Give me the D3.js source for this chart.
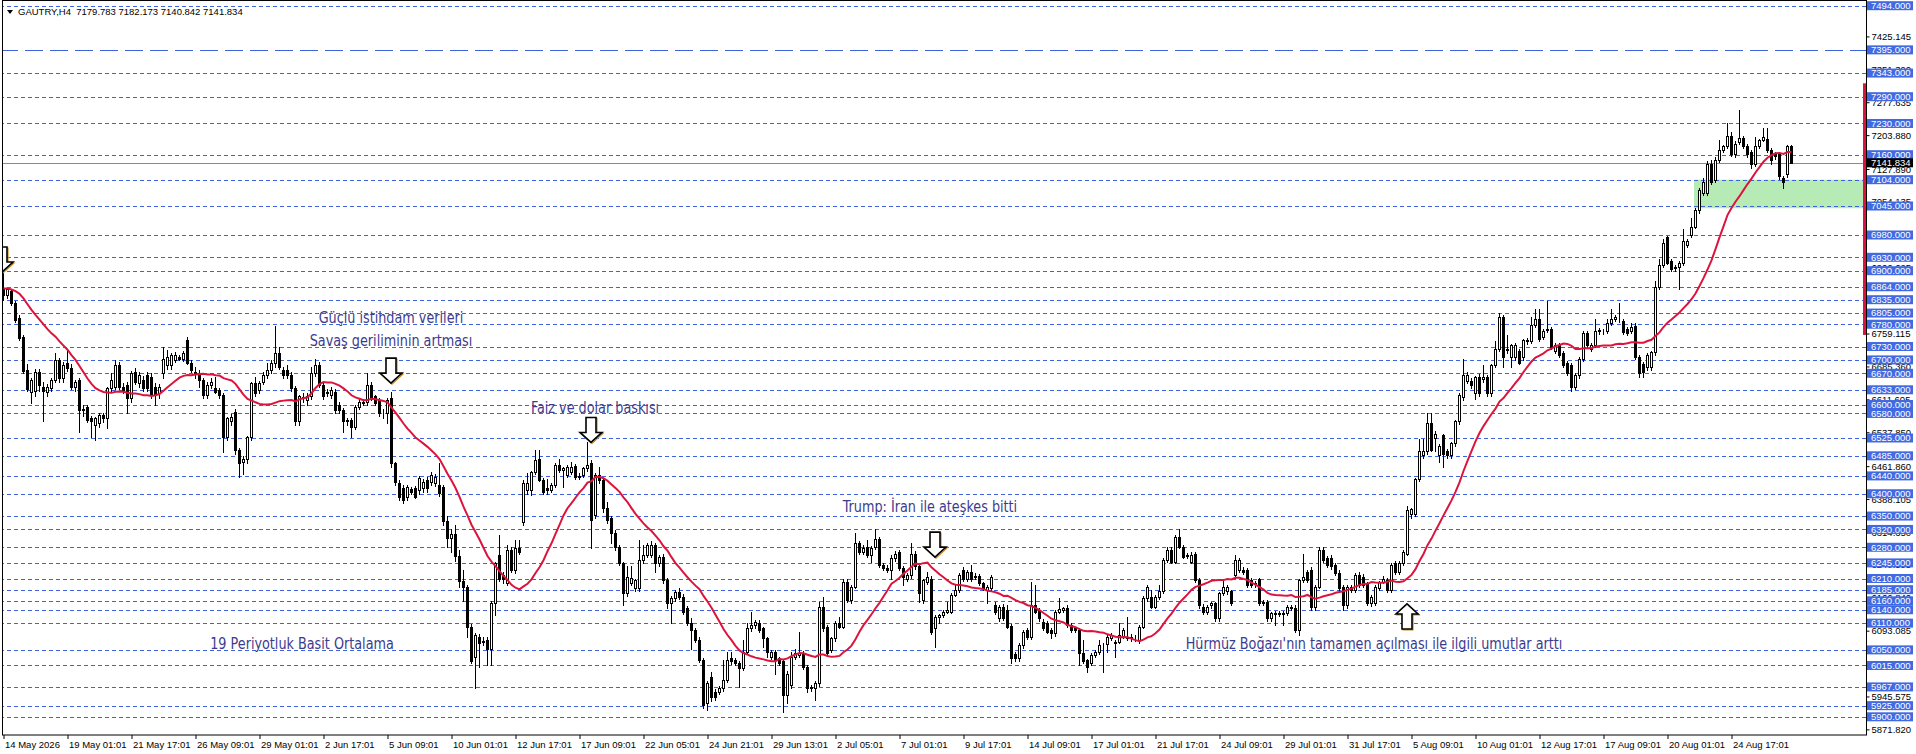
<!DOCTYPE html>
<html><head><meta charset="utf-8">
<script src="https://cdn.jsdelivr.net/npm/d3@7"></script>
<style>html,body{margin:0;padding:0;background:#fff;overflow:hidden}
text{font-family:"Liberation Sans",Arial,sans-serif}
.note{font-family:"Liberation Sans Narrow","DejaVu Sans Condensed","Roboto",sans-serif;font-stretch:condensed}
</style>
</head><body>
<svg id="c" width="1916" height="754" xmlns="http://www.w3.org/2000/svg"></svg>
<script>
// ---------- DATA ----------
const header = "GAUTRY,H4  7179.783 7182.173 7140.842 7141.834";
// H4 candles [open, high, low, close]
const candles = [
[6860,6894,6835,6845],[6845,6862,6838,6858],[6855,6860,6822,6828],[6828,6832,6785,6790],[6795,6800,6745,6750],
[6752,6755,6670,6675],[6677,6690,6630,6635],[6628,6660,6603,6655],[6630,6680,6620,6674],[6672,6680,6630,6644],
[6640,6650,6562,6630],[6629,6645,6620,6640],[6637,6660,6630,6655],[6655,6715,6650,6700],[6700,6705,6650,6659],
[6659,6695,6650,6689],[6692,6722,6675,6681],[6681,6690,6635,6640],[6640,6655,6630,6651],[6655,6660,6539,6588],
[6591,6600,6575,6588],[6595,6600,6560,6565],[6569,6575,6528,6562],[6554,6572,6520,6569],[6558,6580,6550,6576],
[6576,6580,6560,6569],[6569,6640,6547,6636],[6636,6670,6630,6655],[6640,6700,6635,6689],[6689,6695,6635,6640],
[6640,6648,6625,6633],[6644,6650,6580,6614],[6614,6675,6605,6670],[6674,6681,6645,6651],[6648,6672,6640,6666],
[6655,6665,6630,6636],[6666,6672,6630,6636],[6662,6670,6615,6621],[6640,6648,6599,6621],[6625,6645,6615,6640],
[6670,6730,6660,6703],[6689,6722,6680,6707],[6689,6715,6680,6711],[6700,6718,6695,6711],[6707,6712,6700,6703],
[6703,6720,6698,6715],[6745,6752,6690,6692],[6692,6700,6672,6677],[6670,6685,6660,6674],[6670,6678,6640,6655],
[6655,6660,6615,6621],[6621,6650,6615,6644],[6644,6660,6638,6651],[6636,6662,6625,6629],[6633,6638,6615,6621],
[6621,6625,6494,6528],[6528,6572,6520,6569],[6562,6578,6555,6573],[6584,6590,6490,6498],[6498,6502,6438,6468],
[6472,6485,6445,6479],[6479,6530,6470,6528],[6528,6650,6520,6648],[6648,6662,6620,6625],[6633,6652,6625,6648],
[6651,6672,6645,6666],[6666,6692,6660,6677],[6677,6700,6670,6692],[6692,6776,6685,6715],[6715,6730,6680,6685],
[6677,6685,6660,6666],[6677,6689,6660,6666],[6666,6672,6630,6636],[6636,6642,6555,6562],[6562,6622,6555,6618],
[6616,6625,6605,6614],[6610,6625,6600,6618],[6618,6684,6612,6670],[6670,6703,6665,6689],[6689,6695,6640,6644],
[6644,6650,6612,6618],[6629,6635,6620,6625],[6621,6640,6615,6633],[6629,6635,6582,6588],[6599,6605,6580,6588],
[6588,6592,6539,6562],[6565,6570,6555,6562],[6565,6570,6528,6550],[6550,6600,6545,6595],[6595,6612,6590,6606],
[6606,6612,6598,6603],[6606,6670,6600,6644],[6644,6650,6610,6614],[6618,6622,6598,6603],[6610,6615,6575,6580],
[6582,6590,6570,6580],[6580,6615,6558,6610],[6614,6629,6460,6468],[6468,6472,6420,6427],[6423,6430,6385,6393],
[6412,6420,6380,6386],[6393,6420,6385,6416],[6410,6415,6400,6405],[6412,6418,6390,6393],[6408,6440,6400,6435],
[6412,6432,6405,6427],[6431,6438,6405,6412],[6427,6448,6420,6442],[6423,6445,6418,6438],[6419,6468,6395,6401],
[6416,6420,6330,6340],[6340,6350,6280,6300],[6300,6320,6270,6310],[6310,6330,6250,6260],[6260,6275,6190,6205],
[6205,6230,6160,6190],[6190,6195,6080,6102],[6102,6108,6020,6024],[6035,6088,5964,6083],[6080,6085,6012,6065],
[6070,6078,6060,6068],[6072,6078,6016,6053],[6053,6160,6016,6154],[6154,6248,6128,6244],[6263,6307,6205,6210],
[6218,6225,6200,6210],[6199,6285,6195,6274],[6274,6280,6225,6229],[6229,6296,6222,6278],[6278,6296,6265,6270],
[6337,6430,6330,6423],[6408,6446,6400,6423],[6408,6452,6397,6449],[6449,6498,6445,6476],[6477,6498,6428,6431],
[6431,6436,6400,6405],[6412,6434,6400,6408],[6408,6425,6403,6420],[6420,6468,6415,6464],[6464,6479,6448,6453],
[6453,6460,6416,6457],[6442,6465,6438,6461],[6449,6472,6445,6461],[6462,6466,6434,6438],[6440,6446,6432,6438],
[6442,6460,6438,6457],[6457,6517,6450,6464],[6468,6475,6278,6341],[6352,6446,6345,6442],[6442,6461,6425,6431],
[6431,6436,6360,6367],[6367,6382,6335,6341],[6345,6350,6289,6311],[6311,6319,6275,6281],[6281,6285,6240,6244],
[6244,6248,6151,6177],[6177,6237,6170,6214],[6199,6237,6195,6212],[6188,6210,6182,6207],[6188,6296,6182,6251],
[6251,6285,6245,6263],[6263,6290,6258,6285],[6263,6293,6258,6285],[6285,6290,6225,6244],[6244,6262,6238,6259],
[6259,6265,6200,6207],[6207,6212,6143,6154],[6154,6170,6110,6166],[6166,6185,6160,6180],[6180,6188,6165,6169],
[6169,6175,6130,6136],[6143,6148,6105,6110],[6110,6121,6053,6095],[6095,6100,6068,6072],[6072,6078,6022,6027],
[6027,6032,5920,5926],[5930,5980,5915,5975],[5990,6000,5935,5945],[5956,5962,5938,5945],[5956,5968,5950,5964],
[5964,6027,5958,5982],[5982,6046,5978,6027],[6031,6046,6018,6024],[6027,6032,6015,6020],[6020,6025,5967,6009],
[6009,6072,6005,6046],[6046,6110,6040,6098],[6098,6136,6093,6106],[6106,6118,6100,6113],[6110,6116,6090,6095],
[6098,6102,6057,6076],[6076,6080,6035,6046],[6035,6050,6030,6046],[6046,6050,5997,6027],[6031,6035,6015,6020],
[6024,6028,5911,5949],[5949,6002,5930,5997],[5971,6046,5965,6035],[6035,6053,6030,6042],[6039,6091,6035,6042],
[6042,6048,6008,6012],[6012,6016,5956,5964],[5967,5972,5958,5964],[5964,5980,5938,5975],[5975,6158,5970,6147],
[6147,6169,6092,6098],[6102,6106,6038,6042],[6050,6080,6045,6076],[6076,6115,6070,6110],[6110,6124,6098,6102],
[6102,6210,6098,6203],[6203,6208,6158,6162],[6162,6195,6155,6192],[6192,6311,6188,6289],[6289,6295,6265,6270],
[6270,6285,6265,6278],[6281,6296,6258,6263],[6263,6282,6248,6278],[6281,6322,6276,6298],[6298,6302,6235,6240],
[6240,6245,6228,6233],[6233,6240,6225,6230],[6229,6262,6210,6255],[6255,6272,6250,6266],[6270,6275,6228,6233],
[6233,6237,6195,6214],[6210,6222,6205,6218],[6218,6289,6212,6266],[6266,6272,6232,6237],[6237,6240,6158,6177],
[6162,6210,6155,6207],[6203,6225,6198,6214],[6210,6215,6085,6091],[6098,6128,6057,6124],[6124,6130,6110,6128],
[6128,6140,6124,6136],[6136,6158,6132,6139],[6136,6178,6132,6173],[6173,6195,6170,6184],[6184,6222,6180,6218],
[6229,6235,6205,6210],[6210,6228,6205,6225],[6225,6240,6205,6210],[6216,6222,6208,6213],[6216,6220,6195,6199],
[6199,6203,6185,6188],[6184,6195,6154,6192],[6188,6218,6184,6214],[6151,6158,6130,6136],[6121,6150,6115,6147],
[6147,6152,6118,6121],[6140,6150,6098,6102],[6104,6108,6020,6031],[6040,6046,6025,6031],[6031,6065,6024,6061],
[6061,6095,6055,6091],[6095,6100,6075,6080],[6080,6203,6075,6151],[6151,6195,6132,6136],[6139,6143,6115,6121],
[6113,6120,6095,6098],[6110,6115,6088,6091],[6095,6100,6076,6087],[6087,6140,6082,6136],[6136,6166,6132,6141],
[6139,6147,6135,6143],[6143,6150,6102,6106],[6106,6110,6090,6095],[6098,6102,6090,6095],[6095,6100,6016,6042],
[6042,6072,6020,6024],[6027,6030,6001,6012],[6020,6042,6015,6039],[6039,6050,6035,6046],[6046,6072,6040,6061],
[6061,6065,6001,6060],[6064,6085,6046,6080],[6076,6088,6072,6083],[6065,6072,6035,6068],[6068,6110,6065,6083],
[6080,6098,6076,6095],[6076,6124,6072,6080],[6078,6085,6070,6077],[6077,6083,6070,6076],[6072,6105,6065,6102],
[6102,6170,6098,6166],[6166,6195,6160,6192],[6169,6184,6143,6147],[6147,6172,6143,6169],[6169,6195,6165,6181],
[6181,6255,6177,6251],[6251,6281,6248,6274],[6274,6280,6244,6248],[6248,6308,6244,6304],[6304,6320,6278,6281],
[6281,6285,6255,6259],[6262,6268,6255,6260],[6248,6270,6244,6263],[6266,6270,6203,6207],[6207,6212,6145,6151],
[6147,6152,6130,6136],[6136,6150,6130,6147],[6150,6158,6145,6154],[6154,6158,6115,6121],[6121,6180,6115,6177],
[6177,6210,6173,6192],[6181,6196,6176,6192],[6181,6185,6150,6154],[6218,6263,6212,6251],[6229,6255,6225,6251],
[6230,6235,6220,6225],[6229,6233,6190,6195],[6207,6212,6190,6195],[6199,6205,6192,6198],[6208,6212,6150,6154],
[6154,6162,6150,6158],[6158,6162,6115,6121],[6121,6135,6115,6132],[6132,6138,6106,6130],[6130,6138,6125,6133],
[6133,6138,6106,6130],[6132,6150,6128,6147],[6143,6150,6140,6147],[6143,6150,6090,6095],[6095,6210,6083,6207],
[6207,6266,6203,6214],[6225,6230,6203,6207],[6229,6235,6140,6147],[6147,6195,6140,6192],[6192,6281,6188,6274],
[6274,6280,6248,6251],[6255,6260,6236,6240],[6255,6262,6232,6237],[6240,6245,6218,6222],[6222,6228,6185,6188],
[6192,6196,6140,6151],[6151,6196,6145,6192],[6192,6196,6180,6184],[6184,6222,6180,6218],[6218,6225,6190,6195],
[6214,6220,6190,6195],[6199,6203,6150,6154],[6154,6172,6148,6169],[6154,6195,6150,6192],[6188,6205,6184,6203],
[6203,6215,6199,6210],[6207,6212,6180,6184],[6184,6245,6180,6240],[6244,6250,6220,6225],[6225,6250,6220,6244],
[6244,6275,6240,6270],[6266,6372,6262,6364],[6355,6368,6346,6366],[6355,6436,6350,6432],[6432,6522,6428,6495],
[6486,6522,6480,6495],[6495,6580,6490,6558],[6558,6580,6495,6499],[6526,6540,6495,6535],[6486,6512,6472,6508],
[6531,6535,6459,6490],[6495,6500,6480,6486],[6486,6516,6480,6513],[6513,6565,6508,6562],[6562,6625,6556,6621],
[6616,6702,6610,6666],[6652,6672,6648,6666],[6652,6660,6638,6643],[6625,6665,6612,6661],[6661,6668,6620,6625],
[6657,6688,6650,6661],[6661,6666,6620,6625],[6625,6690,6620,6688],[6688,6742,6684,6724],[6724,6805,6720,6796],
[6796,6800,6684,6706],[6722,6756,6715,6724],[6706,6736,6684,6733],[6706,6738,6700,6733],[6720,6725,6690,6693],
[6706,6746,6700,6744],[6742,6750,6736,6744],[6742,6796,6738,6778],[6778,6814,6774,6792],[6792,6814,6742,6747],
[6751,6770,6746,6765],[6767,6832,6762,6770],[6769,6774,6724,6729],[6720,6738,6715,6733],[6733,6738,6706,6711],
[6715,6720,6684,6688],[6693,6697,6666,6670],[6688,6692,6630,6639],[6639,6670,6634,6666],[6666,6706,6660,6702],
[6702,6765,6698,6760],[6760,6765,6730,6733],[6724,6738,6720,6733],[6733,6792,6729,6765],[6766,6772,6758,6764],
[6764,6770,6758,6765],[6765,6792,6760,6783],[6783,6814,6778,6792],[6792,6800,6788,6796],[6792,6828,6786,6791],
[6787,6792,6758,6762],[6769,6774,6755,6760],[6765,6783,6760,6774],[6777,6782,6702,6706],[6706,6710,6661,6670],
[6690,6695,6661,6672],[6684,6715,6678,6711],[6684,6720,6678,6717],[6717,6878,6712,6864],[6864,6927,6860,6913],
[6913,6972,6908,6963],[6976,6977,6915,6918],[6922,6926,6900,6904],[6906,6912,6900,6908],[6909,6922,6860,6918],
[6918,6994,6912,6967],[6958,6972,6953,6967],[6981,7017,6976,6999],[6999,7040,6995,7035],[7035,7085,7030,7080],
[7075,7107,7070,7098],[7075,7145,7070,7139],[7139,7148,7095,7098],[7103,7155,7098,7148],[7148,7193,7143,7170],
[7170,7182,7165,7179],[7179,7230,7175,7202],[7202,7210,7157,7161],[7161,7190,7155,7184],[7188,7260,7184,7197],
[7197,7202,7175,7179],[7179,7184,7155,7161],[7166,7170,7130,7139],[7139,7200,7135,7179],[7179,7195,7175,7193],
[7193,7220,7190,7200],[7195,7220,7165,7170],[7170,7175,7140,7148],[7161,7166,7150,7157],[7161,7165,7105,7112],
[7107,7112,7085,7098],[7116,7182,7110,7179],[7179.783,7182.173,7140.842,7141.834]
];
// closes before the first visible bar (estimated from the drawn 19-period average at the left edge)
const prevCloses = [6860,6870,6855,6865,6869,6885,6895,6887,6845,6835,6840,6838,6842,6855,6870,6860,6866,6858];
const maPeriod = 19;
// time axis labels, one every 16 bars
const timeLabels = ["14 May 2026","19 May 01:01","21 May 17:01","26 May 09:01","29 May 01:01","2 Jun 17:01","5 Jun 09:01",
"10 Jun 01:01","12 Jun 17:01","17 Jun 09:01","22 Jun 05:01","24 Jun 21:01","29 Jun 13:01","2 Jul 05:01","7 Jul 01:01",
"9 Jul 17:01","14 Jul 09:01","17 Jul 01:01","21 Jul 17:01","24 Jul 09:01","29 Jul 01:01","31 Jul 17:01","5 Aug 09:01",
"10 Aug 01:01","12 Aug 17:01","17 Aug 09:01","20 Aug 01:01","24 Aug 17:01"];
const labelEvery = 16;
// horizontal level lines (blue dashed) with their price labels
const levelPrices = [7494,7395,7343,7290,7230,7160,7104,7045,6980,6930,6900,6864,6835,6805,6780,6730,6700,6670,6633,6600,
6580,6525,6485,6440,6400,6350,6320,6280,6245,6210,6185,6160,6140,6110,6050,6015,5967,5925,5900];
const longDashLevel = 7395;
// price scale tick labels
const priceTicks = [7425.145,7351.390,7277.635,7203.880,7127.890,7054.135,6980.380,6906.625,6832.870,6759.115,6685.360,
6611.605,6537.850,6461.860,6388.105,6314.350,6240.595,6166.840,6093.085,6019.330,5945.575,5871.820];
const bidPrice = 7141.834;
const zoneTop = 7104, zoneBottom = 7040, zoneStartBar = 423;
const markerTop = 7320, markerBottom = 6756;
const notes = [
  {text:"Güçlü istihdam verileri", bar:97, price:6782},
  {text:"Savaş geriliminin artması", bar:97, price:6732},
  {text:"Faiz ve dolar baskısı", bar:148, price:6580},
  {text:"Trump: İran ile ateşkes bitti", bar:231.75, price:6360},
  {text:"19 Periyotluk Basit Ortalama", bar:74.75, price:6052},
  {text:"Hürmüz Boğazı'nın tamamen açılması ile ilgili umutlar arttı", bar:342.75, price:6052}
];
const arrows = [
  {bar:-0.25, price:6953, dir:"down"},
  {bar:97, price:6704, dir:"down"},
  {bar:147, price:6571, dir:"down"},
  {bar:233, price:6314, dir:"down"},
  {bar:351, price:6153, dir:"up"}
];

// ---------- DRAW ----------
const svg = d3.select("#c");
const plotL = 2, plotR = 1866, plotT = 0.5, plotB = 735;
const y = d3.scaleLinear().domain([5900, 7494]).range([716.8, 5.7]);
const x = d3.scaleLinear().domain([0, candles.length - 1]).range([3, 1791]);
const px = i => Math.round(x(i));
const py = v => Math.round(y(v));

svg.append("rect").attr("width",1916).attr("height",754).attr("fill","#fff");
svg.append("defs").append("clipPath").attr("id","plot")
  .append("rect").attr("x",plotL).attr("y",0).attr("width",plotR-plotL).attr("height",plotB);
const g = svg.append("g").attr("clip-path","url(#plot)");

// green zone
g.append("rect").attr("x", px(zoneStartBar)-1).attr("y", y(zoneTop))
  .attr("width", plotR - px(zoneStartBar) + 1).attr("height", y(zoneBottom)-y(zoneTop))
  .attr("fill","#b6ebb6");

// level lines
g.selectAll("line.lvl").data(levelPrices).join("line").attr("class","lvl")
  .attr("x1",0).attr("x2",plotR).attr("y1",d=>py(d)+0.5).attr("y2",d=>py(d)+0.5)
  .attr("stroke","#3f63dd").attr("stroke-width",1)
  .attr("stroke-dasharray",d=> d===longDashLevel ? "18,7" : "4,3");

// bid line
g.append("line").attr("x1",0).attr("x2",plotR).attr("y1",py(bidPrice)+0.5).attr("y2",py(bidPrice)+0.5)
  .attr("stroke","#7f8c99").attr("stroke-width",1);

// candles
const cg = g.append("g");
cg.selectAll("line.w").data(candles).join("line").attr("class","w")
  .attr("x1",(d,i)=>px(i)+0.5).attr("x2",(d,i)=>px(i)+0.5)
  .attr("y1",d=>py(d[1])).attr("y2",d=>py(d[2])+1)
  .attr("stroke","#000").attr("stroke-width",1);
cg.selectAll("rect.b").data(candles).join("rect").attr("class","b")
  .attr("x",(d,i)=>px(i)-0.5)
  .attr("y",d=>py(Math.max(d[0],d[3]))+0.5)
  .attr("width",2)
  .attr("height",d=>Math.max(0, py(Math.min(d[0],d[3]))-py(Math.max(d[0],d[3]))))
  .attr("fill",d=> d[3]>=d[0] ? "#fff" : "#000")
  .attr("stroke","#000").attr("stroke-width",1);

// moving average
const allCloses = prevCloses.concat(candles.map(d=>d[3]));
const ma = candles.map((d,i)=> d3.mean(allCloses.slice(i+prevCloses.length-maPeriod+1, i+prevCloses.length+1)));
g.append("path").datum(ma)
  .attr("d", d3.line().x((d,i)=>x(i)+0.5).y(d=>y(d)))
  .attr("fill","none").attr("stroke","#dc143c").attr("stroke-width",2);

// notes (condensed lettering)
g.selectAll("text.note").data(notes).join("text").attr("class","note")
  .attr("transform",d=>`translate(${x(d.bar)},${y(d.price)}) scale(0.89,1)`)
  .attr("text-anchor","middle").attr("font-size",16).attr("fill","#3b3b8e")
  .text(d=>d.text);

// arrows
function arrowPath(d){
  const cx = x(d.bar), t = y(d.price);
  const sw=5, hw=11, sh=15, hh=10;
  if(d.dir==="down"){
    return `M${cx-sw},${t}L${cx+sw},${t}L${cx+sw},${t+sh}L${cx+hw},${t+sh}L${cx},${t+sh+hh}L${cx-hw},${t+sh}L${cx-sw},${t+sh}Z`;
  }
  return `M${cx},${t}L${cx+hw},${t+hh}L${cx+sw},${t+hh}L${cx+sw},${t+hh+sh}L${cx-sw},${t+hh+sh}L${cx-sw},${t+hh}L${cx-hw},${t+hh}Z`;
}
g.selectAll("path.arshadow").data(arrows).join("path").attr("class","arshadow")
  .attr("d",arrowPath).attr("transform","translate(1,1)")
  .attr("fill","none").attr("stroke","#d08a20").attr("stroke-width",1.2);
g.selectAll("path.ar").data(arrows).join("path").attr("class","ar")
  .attr("d",arrowPath).attr("fill","#fff").attr("stroke","#000").attr("stroke-width",1.6);

// red vertical marker at right edge
svg.append("rect").attr("x",plotR-3).attr("y",y(markerTop)).attr("width",3)
  .attr("height",y(markerBottom)-y(markerTop)).attr("fill","#dc143c");

// frame
svg.append("rect").attr("x",plotL+0.5).attr("y",plotT).attr("width",plotR-plotL).attr("height",plotB-plotT)
  .attr("fill","none").attr("stroke","#000").attr("stroke-width",1);

// header
svg.append("path").attr("d","M7,10L13,10L10,14Z").attr("fill","#000");
svg.append("text").attr("x",18).attr("y",15).attr("font-size",9.5).attr("fill","#000")
  .attr("xml:space","preserve").style("white-space","pre").text(header);

// x axis
const xAxis = d3.axisBottom(x)
  .tickValues(d3.range(0, candles.length, labelEvery))
  .tickFormat(i => timeLabels[i/labelEvery])
  .tickSize(4).tickPadding(2);
const xa = svg.append("g").attr("transform",`translate(0.5,${plotB})`).call(xAxis);
xa.select(".domain").remove();
xa.selectAll(".tick line").attr("stroke","#000");
xa.selectAll(".tick text").attr("text-anchor","start").attr("dx",1)
  .attr("font-size",9.5).attr("font-family","Liberation Sans, Arial, sans-serif").attr("fill","#000");

// right axis: auto ticks
const yAxis = d3.axisRight(y).tickValues(priceTicks).tickFormat(d3.format(".3f")).tickSize(3).tickPadding(2);
const ya = svg.append("g").attr("transform",`translate(${plotR+0.5},0)`).call(yAxis);
ya.select(".domain").remove();
ya.selectAll(".tick line").attr("stroke","#000");
ya.selectAll(".tick text").attr("font-size",9.5).attr("font-family","Liberation Sans, Arial, sans-serif").attr("fill","#000");

// level labels
const lg = svg.append("g");
lg.selectAll("rect").data(levelPrices).join("rect")
  .attr("x",plotR+1).attr("y",d=>y(d)-4.5).attr("width",46).attr("height",9).attr("fill","#4169e1");
lg.selectAll("text").data(levelPrices).join("text")
  .attr("x",plotR+5).attr("y",d=>y(d)).attr("dy","0.35em").attr("font-size",9.5).attr("fill","#fff")
  .text(d=>d3.format(".3f")(d));
// bid label
svg.append("rect").attr("x",plotR+1).attr("y",y(bidPrice)-4.5).attr("width",46).attr("height",9).attr("fill","#000");
svg.append("text").attr("x",plotR+5).attr("y",y(bidPrice)).attr("dy","0.35em").attr("font-size",9.5).attr("fill","#fff")
  .text(d3.format(".3f")(bidPrice));
</script>
</body></html>
